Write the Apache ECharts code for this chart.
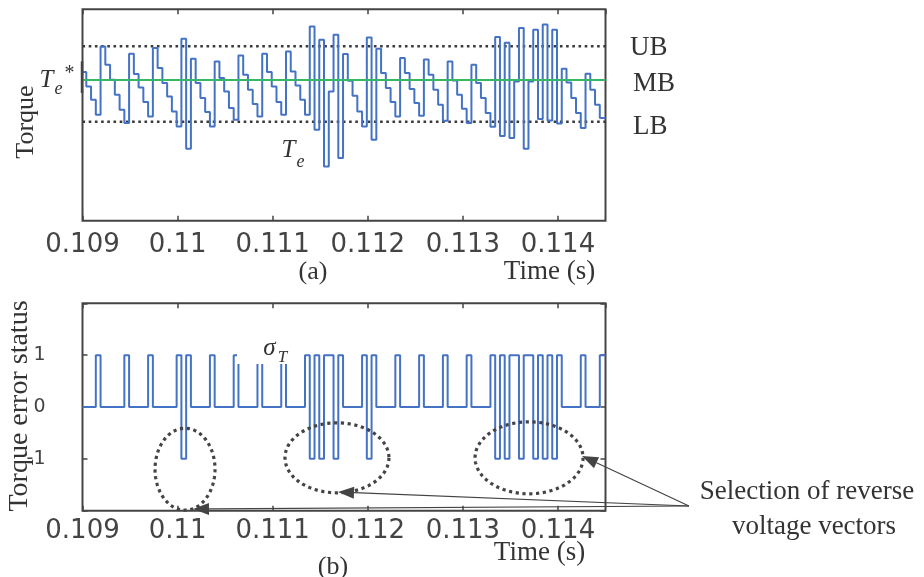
<!DOCTYPE html>
<html><head><meta charset="utf-8">
<script src="https://cdn.jsdelivr.net/npm/echarts/dist/echarts.min.js"></script>
<style>html,body{margin:0;padding:0;background:#fff}#c{width:924px;height:577px}</style>
</head><body><div id="c"></div>
<script>
// ---- data ----
const sampleTimes = [
 0.109,
 0.10904,0.10909,0.10914,0.10919,0.10924,0.10929,0.10934,0.10939,0.10944,0.10949,
 0.10954,0.10959,0.10964,0.10969,0.10974,0.10979,0.10984,0.10989,0.10994,0.10999,
 0.11004,0.11009,0.11014,0.11019,0.11024,0.11029,0.11034,0.11039,0.11044,0.11049,
 0.11054,0.11059,0.11064,0.11069,0.11074,0.11079,0.11084,0.11089,0.11094,0.11099,
 0.11104,0.11109,0.11114,0.11119,0.11124,0.11129,0.11134,0.11139,0.11144,0.11149,
 0.11154,0.11159,0.11164,0.11169,0.11174,0.11179,0.11184,0.11189,0.11194,0.11199,
 0.11204,0.11209,0.11214,0.11219,0.11224,0.11229,0.11234,0.11239,0.11244,0.11249,
 0.11254,0.11259,0.11264,0.11269,0.11274,0.11279,0.11284,0.11289,0.11294,0.11299,
 0.11304,0.11309,0.11314,0.11319,0.11324,0.11329,0.11334,0.11339,0.11344,0.11349,
 0.11354,0.11359,0.11364,0.11369,0.11374,0.11379,0.11384,0.11389,0.11394,0.11399,
 0.11404,0.11409,0.11414,0.11419,0.11424,0.11429,0.11434,0.11439,0.11444,
 0.1145
];
const torqueLevels = [
 148.7,134.3,121.0,106.0,174.3,156.0,141.0,126.0,111.0,97.7,
 167.0,146.7,133.3,118.7,104.3,172.7,152.7,137.7,124.3,109.3,
 94.3,182.0,72.0,162.0,137.7,122.7,108.7,94.3,159.3,142.7,
 129.3,112.7,101.0,165.3,146.0,131.0,116.7,104.3,167.0,148.7,
 134.3,118.7,106.0,169.3,149.3,135.3,121.0,106.0,194.3,91.0,
 181.0,54.3,129.3,186.0,62.7,166.7,140.0,125.0,109.3,94.3,
 183.3,81.0,172.0,147.7,132.7,118.7,104.3,162.7,147.7,131.7,
 117.7,105.0,161.3,146.0,131.0,116.0,100.0,159.3,140.3,126.0,
 112.0,97.7,156.0,137.7,122.7,107.7,94.0,183.7,84.7,178.0,
 82.7,139.3,192.7,72.0,139.3,191.0,101.7,196.3,100.3,191.0,
 97.3,152.0,138.3,122.7,107.7,92.7,147.0,131.0,116.0,102.7
];
const sigmaLevels = [
 0,0,0,1,0,0,0,0,0,1,
 0,0,0,0,1,0,0,0,0,0,
 1,-1,1,0,0,0,0,1,0,0,
 0,0,1,0,0,0,0,1,0,0,
 0,0,1,0,0,0,0,1,-1,1,
 -1,1,1,-1,1,0,0,0,0,1,
 -1,1,0,0,0,0,1,0,0,0,
 0,1,0,0,0,0,1,0,0,0,
 0,1,0,0,0,0,1,-1,1,-1,
 1,1,-1,1,1,-1,1,-1,1,-1,
 1,0,0,0,0,1,0,0,0,1
];
const bandUB = 174.5, bandMB = 140.8, bandLB = 99.0;
const tStart = 0.109, tEnd = 0.1145, tickStep = 0.001, bandLineEnd = 0.11468;
const xTickLabels = ['0.109','0.11','0.111','0.112','0.113','0.114'];
const sigmaTicks = [-1, 0, 1];
const sigmaTickLabels = ['-1','0','1'];
// annotation anchors (time, sigma)
const reverseGroupCenters = [[0.110078,-1.2],[0.111676,-0.98],[0.113696,-0.98]];
const arrowTips = [[0.110162,-1.967],[0.111687,-1.64],[0.114253,-0.945]];
const arrowHub = [0.115378,-1.909];

// ---- chart ----
const serif = '"Liberation Serif","Times New Roman",serif';
const chart = echarts.init(document.getElementById('c'), null, {renderer:'canvas', width:924, height:577});
const toSteps = levels => sampleTimes.map((t,i) => [t, levels[Math.min(i, levels.length-1)]]);
const xFmt = v => { const i = Math.round((v - tStart)/tickStep); return (Math.abs(v - (tStart + i*tickStep)) < 1e-7 && xTickLabels[i] !== undefined) ? xTickLabels[i] : ''; };
const yFmt = v => { const i = sigmaTicks.indexOf(Math.round(v)); return (Math.abs(v - Math.round(v)) < 1e-9 && i >= 0) ? sigmaTickLabels[i] : ''; };
const tick = {show:true, inside:true, length:5, lineStyle:{color:'#444', width:1.5}};
const xBase = (grid, pos, labels, margin) => ({
  type:'value', gridIndex:grid, position:pos, min:tStart, max:tEnd, interval:tickStep,
  axisLine:{show:false, onZero:false}, splitLine:{show:false}, axisTick:tick,
  axisLabel:{show:labels, formatter:xFmt, showMaxLabel:false, margin:margin, color:'#444', fontFamily:'DejaVu Sans', fontSize:26}
});
const gridBase = {show:true, borderColor:'#444', borderWidth:2, backgroundColor:'rgba(0,0,0,0)', containLabel:false, outerBoundsMode:'none'};

chart.setOption({
  animation:false,
  backgroundColor:'#fff',
  grid:[
    Object.assign({left:82.5, top:9.3, width:523, height:211.4}, gridBase),
    Object.assign({left:82.5, top:303.3, width:523, height:207.4}, gridBase)
  ],
  xAxis:[ xBase(0,'bottom',true,12), xBase(0,'top',false,8), xBase(1,'bottom',true,8), xBase(1,'top',false,8) ],
  yAxis:[
    {type:'value', gridIndex:0, min:0, max:211.4, show:false},
    {type:'value', gridIndex:1, position:'left', min:-2, max:2, interval:1,
     axisLine:{show:false, onZero:false}, splitLine:{show:false}, axisTick:tick,
     axisLabel:{formatter:yFmt, margin:37, color:'#444', fontFamily:'DejaVu Sans', fontSize:19}},
    {type:'value', gridIndex:1, position:'right', min:-2, max:2, interval:1,
     axisLine:{show:false, onZero:false}, splitLine:{show:false}, axisTick:tick, axisLabel:{show:false}}
  ],
  series:[
    {type:'line', name:'UB', xAxisIndex:0, yAxisIndex:0, data:[[tStart,bandUB],[bandLineEnd,bandUB]], clip:false, symbol:'none', z:1,
     lineStyle:{color:'#3a3a3a', width:2.6, type:[2.6,3.6]}},
    {type:'line', name:'LB', xAxisIndex:0, yAxisIndex:0, data:[[tStart,bandLB],[bandLineEnd,bandLB]], clip:false, symbol:'none', z:1,
     lineStyle:{color:'#3a3a3a', width:2.6, type:[2.6,3.6]}},
    {type:'line', name:'Te', xAxisIndex:0, yAxisIndex:0, data:toSteps(torqueLevels), step:'end', symbol:'none', z:2,
     lineStyle:{color:'#4472c4', width:2}},
    {type:'line', name:'MB', xAxisIndex:0, yAxisIndex:0, data:[[tStart,bandMB],[tEnd,bandMB]], symbol:'none', z:3,
     lineStyle:{color:'#35b866', width:2}},
    {type:'line', name:'sigma', xAxisIndex:2, yAxisIndex:1, data:toSteps(sigmaLevels), step:'end', symbol:'none', z:2,
     lineStyle:{color:'#4472c4', width:2}}
  ]
});

// ---- annotations ----
const P0 = (t,v) => chart.convertToPixel({xAxisIndex:0, yAxisIndex:0}, [t,v]);
const P1 = (t,v) => chart.convertToPixel({xAxisIndex:2, yAxisIndex:1}, [t,v]);
const txt = (text, x, y, size, o) => {
  o = o || {};
  return {type:'text', x:x, y:y, z:40, rotation:o.rot || 0,
    style:{text:text, fontSize:size, fontFamily:o.family || serif, fontStyle:o.italic ? 'italic' : 'normal',
      fill:o.color || '#333', align:o.align || 'center', textAlign:o.align || 'center',
      verticalAlign:'middle', textVerticalAlign:'middle'}};
};
const g = [];
// y-axis names
g.push(txt('Torque', 26, 122, 26, {rot:Math.PI/2}));
g.push(txt('Torque error status', 20, 406, 28, {rot:Math.PI/2}));
// band labels
g.push(txt('UB', 630, 48, 27, {align:'left'}));
g.push(txt('MB', 633, 84, 27, {align:'left'}));
g.push(txt('LB', 633, 127, 27, {align:'left'}));
// sub captions
g.push(txt('(a)', 313, 272, 26));
g.push(txt('Time (s)', 549.5, 272, 27));
g.push(txt('(b)', 333, 567, 26));
g.push(txt('Time (s)', 539.5, 553, 27));
// Te* label
g.push(txt('T', 46.5, 80, 25, {italic:true}));
g.push(txt('e', 58.5, 89, 18, {italic:true}));
g.push(txt('*', 69.5, 74, 20));
// Te label
g.push(txt('T', 288.5, 150, 25, {italic:true}));
g.push(txt('e', 300.5, 162, 18, {italic:true}));
// sigma_T label with white box
g.push({type:'rect', z:30, shape:{x:237, y:338, width:53, height:26}, style:{fill:'#fff'}});
g.push(txt('\u03c3', 269.5, 348, 25, {italic:true}));
g.push(txt('T', 282.5, 358, 17, {italic:true}));
// dark marker on left border of torque plot
const mTop = P0(tStart, 159.3), mBot = P0(tStart, 127.7);
g.push({type:'line', z:35, shape:{x1:mTop[0]-0.5, y1:mTop[1], x2:mBot[0]-0.5, y2:mBot[1]}, style:{stroke:'#444', lineWidth:2.5}});
// dotted ellipses
const radii = [[30,41],[52,35],[54,36]];
reverseGroupCenters.forEach((c,i) => {
  const p = P1(c[0], c[1]); const pts = [];
  for (let k = 0; k <= 96; k++) { const a = k/96*2*Math.PI; pts.push([p[0] + radii[i][0]*Math.cos(a), p[1] + radii[i][1]*Math.sin(a)]); }
  g.push({type:'polyline', z:20, shape:{points:pts}, style:{stroke:'#444', lineWidth:3.2, lineDash:[3.2,3.6], fill:null}});
});
// arrows
const hub = P1(arrowHub[0], arrowHub[1]);
arrowTips.forEach(tp => {
  const tip = P1(tp[0], tp[1]);
  const dx = tip[0]-hub[0], dy = tip[1]-hub[1], L = Math.hypot(dx,dy), ux = dx/L, uy = dy/L;
  const hl = 16, hw = 6;
  const base = [tip[0]-ux*hl, tip[1]-uy*hl];
  g.push({type:'line', z:22, shape:{x1:hub[0], y1:hub[1], x2:base[0], y2:base[1]}, style:{stroke:'#444', lineWidth:1.2}});
  g.push({type:'polygon', z:22, shape:{points:[tip,[base[0]-uy*hw, base[1]+ux*hw],[base[0]+uy*hw, base[1]-ux*hw]]}, style:{fill:'#444'}});
});
g.push(txt('Selection of reverse', 807, 492, 27));
g.push(txt('voltage vectors', 814, 527, 27));
chart.setOption({graphic:g});
</script>
</body></html>
